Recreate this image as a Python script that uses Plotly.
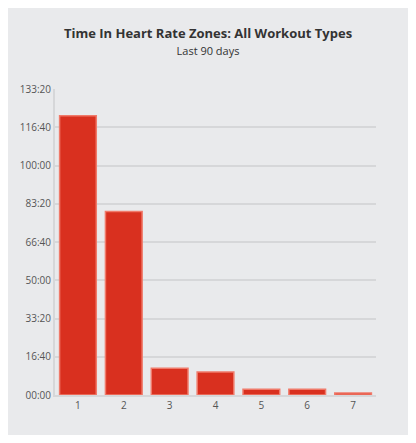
import plotly.graph_objects as go

zones = ["1", "2", "3", "4", "5", "6", "7"]
minutes = [7300, 4800, 700, 600, 150, 150, 50]
tick_vals = [0, 1000, 2000, 3000, 4000, 5000, 6000, 7000, 8000]
tick_text = ["00:00", "16:40", "33:20", "50:00", "66:40", "83:20", "100:00", "116:40", "133:20"]

fig = go.Figure(go.Bar(
    x=zones, y=minutes,
    marker=dict(color="#d9301f", line=dict(color="#f07a6a", width=1.5)),
))
fig.update_layout(
    width=400, height=427,
    paper_bgcolor="#e9eaec", plot_bgcolor="#e9eaec",
    margin=dict(l=47, r=32, t=81, b=40, autoexpand=False),
    bargap=0.2, showlegend=False,
    font=dict(family="Open Sans, Arial, sans-serif", color="#555"),
    title=dict(text="<b>Time In Heart Rate Zones: All Workout Types</b><br><span style='font-size:11px;color:#333'>Last 90 days</span>",
               x=0.5, xanchor="center", y=0.93, font=dict(size=13, color="#333")),
)
fig.update_yaxes(range=[0, 8000], tickvals=tick_vals, ticktext=tick_text,
                 gridcolor="#d6d7d9", gridwidth=1.5, zeroline=False,
                 showline=True, linecolor="#d6d7d9", linewidth=2,
                 tickfont=dict(size=10, color="#555"), ticks="", automargin=False)
fig.update_xaxes(showline=True, linecolor="#d6d7d9", linewidth=2,
                 tickfont=dict(size=10, color="#555"), automargin=False)
fig.write_html("out.html")
